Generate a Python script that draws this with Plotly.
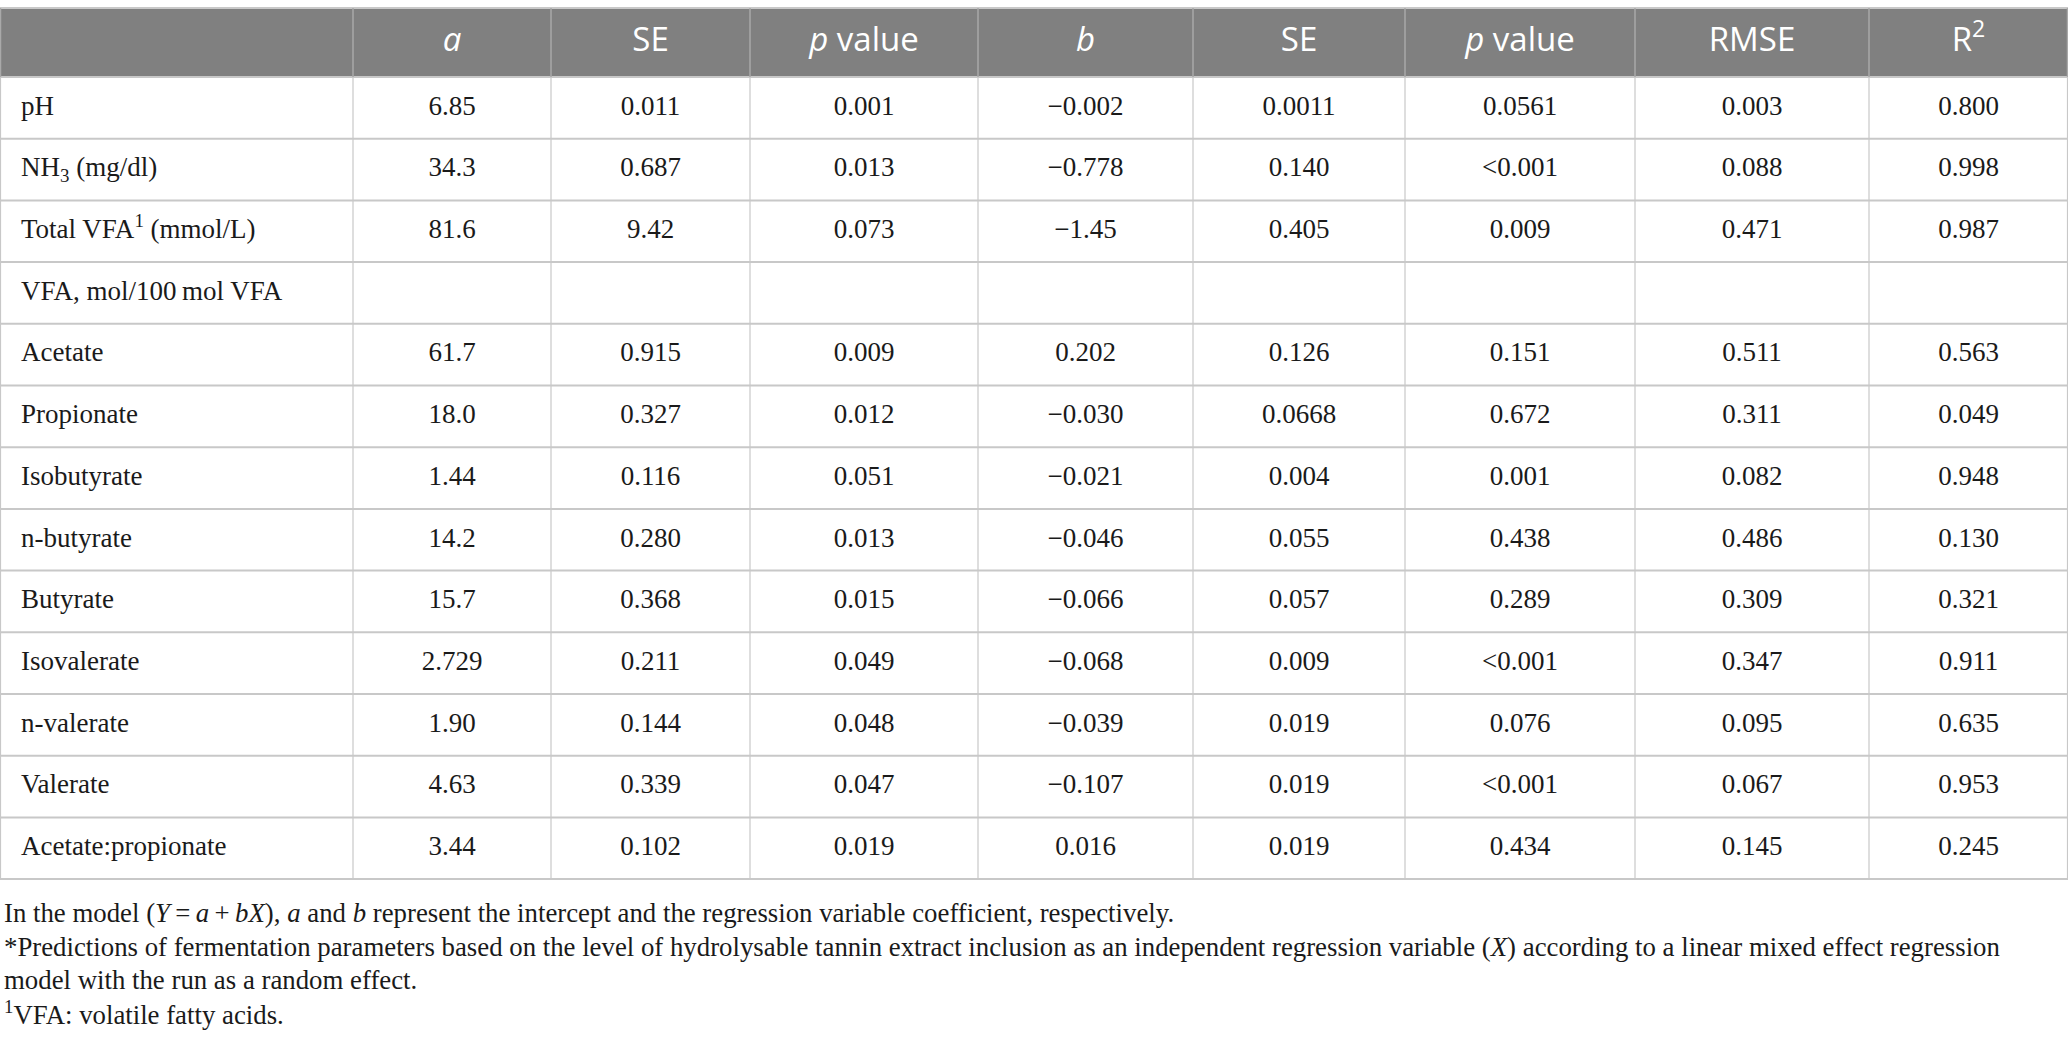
import plotly.graph_objects as go

# ---------------- data ----------------
headers = ["<i>a</i>", "SE", "<i>p</i> value", "<i>b</i>", "SE", "<i>p</i> value", "RMSE", "R<sup>2</sup>"]

parameters = ["pH", "NH<sub>3</sub> (mg/dl)", "Total VFA<sup>1</sup> (mmol/L)", "VFA, mol/100\u2009mol VFA",
              "Acetate", "Propionate", "Isobutyrate", "n-butyrate", "Butyrate", "Isovalerate",
              "n-valerate", "Valerate", "Acetate:propionate"]
# None = blank cell (the "VFA, mol/100 mol VFA" sub-heading row has no values)
a_vals = ["6.85", "34.3", "81.6", None, "61.7", "18.0", "1.44", "14.2", "15.7", "2.729", "1.90", "4.63", "3.44"]
se_a = ["0.011", "0.687", "9.42", None, "0.915", "0.327", "0.116", "0.280", "0.368", "0.211", "0.144", "0.339", "0.102"]
p_a = ["0.001", "0.013", "0.073", None, "0.009", "0.012", "0.051", "0.013", "0.015", "0.049", "0.048", "0.047", "0.019"]
b_vals = ["\u22120.002", "\u22120.778", "\u22121.45", None, "0.202", "\u22120.030", "\u22120.021", "\u22120.046",
          "\u22120.066", "\u22120.068", "\u22120.039", "\u22120.107", "0.016"]
se_b = ["0.0011", "0.140", "0.405", None, "0.126", "0.0668", "0.004", "0.055", "0.057", "0.009", "0.019", "0.019", "0.019"]
p_b = ["0.0561", "&lt;0.001", "0.009", None, "0.151", "0.672", "0.001", "0.438", "0.289", "&lt;0.001",
       "0.076", "&lt;0.001", "0.434"]
rmse = ["0.003", "0.088", "0.471", None, "0.511", "0.311", "0.082", "0.486", "0.309", "0.347", "0.095", "0.067", "0.145"]
r2 = ["0.800", "0.998", "0.987", None, "0.563", "0.049", "0.948", "0.130", "0.321", "0.911", "0.635", "0.953", "0.245"]

footnotes = [
    "In the model (<i>Y</i>\u2009=\u2009<i>a</i>\u2009+\u2009<i>bX</i>), <i>a</i> and <i>b</i> represent the intercept and the regression variable coefficient, respectively.",
    "*Predictions of fermentation parameters based on the level of hydrolysable tannin extract inclusion as an independent regression variable (<i>X</i>) according to a linear mixed effect regression",
    "model with the run as a random effect.",
    "<sup>1</sup>VFA: volatile fatty acids.",
]

value_columns = [a_vals, se_a, p_a, b_vals, se_b, p_b, rmse, r2]

# ---------------- layout geometry ----------------
W, H = 2068, 1050
col_edges = [0, 353, 551, 750, 978, 1193, 1405, 1635, 1869, 2068]
header_top, header_bottom = 8, 77
row_h = 61.7
n_rows = len(parameters)
table_bottom = header_bottom + n_rows * row_h
left_pad = 21

row_centers = [header_bottom + (i + 0.5) * row_h for i in range(n_rows)]
col_centers = [(col_edges[i] + col_edges[i + 1]) / 2 for i in range(len(col_edges) - 1)]

fig = go.Figure()

shapes = []
# header background
shapes.append(dict(type="rect", xref="x", yref="y", x0=0, x1=W, y0=header_top, y1=header_bottom,
                   fillcolor="#808080", line=dict(width=0), layer="below"))
# horizontal lines
grid = "#c8c8c8"
h_lines = [header_top, header_bottom] + [header_bottom + (i + 1) * row_h for i in range(n_rows)]
for yv in h_lines:
    shapes.append(dict(type="line", xref="x", yref="y", x0=0, x1=W, y0=yv, y1=yv,
                       line=dict(color=grid, width=2)))
# vertical lines
for xv in col_edges:
    xx = min(max(xv, 0.5), W - 0.5)
    shapes.append(dict(type="line", xref="x", yref="y", x0=xx, x1=xx, y0=header_top, y1=header_bottom,
                       line=dict(color="#a9a9a9", width=1.5)))
    shapes.append(dict(type="line", xref="x", yref="y", x0=xx, x1=xx, y0=header_bottom, y1=table_bottom,
                       line=dict(color=grid, width=1.2)))

body_font = dict(family="Liberation Serif", size=27, color="#1a1a1a")

# header text
fig.add_trace(go.Scatter(
    x=col_centers[1:], y=[(header_top + header_bottom) / 2] * len(headers),
    text=headers, mode="text", textposition="middle center",
    textfont=dict(family="Open Sans", size=33, color="white"),
    hoverinfo="skip", showlegend=False))

# first column (left aligned)
fig.add_trace(go.Scatter(
    x=[left_pad] * n_rows, y=row_centers, text=parameters, mode="text",
    textposition="middle right", textfont=body_font,
    hoverinfo="skip", showlegend=False, marker=dict(size=0)))

# numeric columns (centered) in one trace; blank cells are not drawn
xs, ys, ts = [], [], []
for ci, col in enumerate(value_columns, start=1):
    for ri, t in enumerate(col):
        if t is not None:
            xs.append(col_centers[ci])
            ys.append(row_centers[ri])
            ts.append(t)
fig.add_trace(go.Scatter(
    x=xs, y=ys, text=ts, mode="text", textposition="middle center", textfont=body_font,
    hoverinfo="skip", showlegend=False))

# footnotes
foot_y = [913, 947, 980, 1013]
annotations = []
for txt, yv in zip(footnotes, foot_y):
    annotations.append(dict(x=2, y=yv, xref="x", yref="y", text=txt, showarrow=False,
                            xanchor="left", yanchor="middle",
                            font=dict(family="Liberation Serif", size=26.8, color="#1a1a1a")))

fig.update_layout(
    width=W, height=H,
    margin=dict(l=0, r=0, t=0, b=0),
    paper_bgcolor="white", plot_bgcolor="white",
    xaxis=dict(range=[0, W], visible=False, fixedrange=True),
    yaxis=dict(range=[H, 0], visible=False, fixedrange=True),
    shapes=shapes, annotations=annotations,
    hovermode=False, showlegend=False,
)

fig.write_html("out.html", config={"displayModeBar": False},
               post_script="document.body.style.margin='0';")
